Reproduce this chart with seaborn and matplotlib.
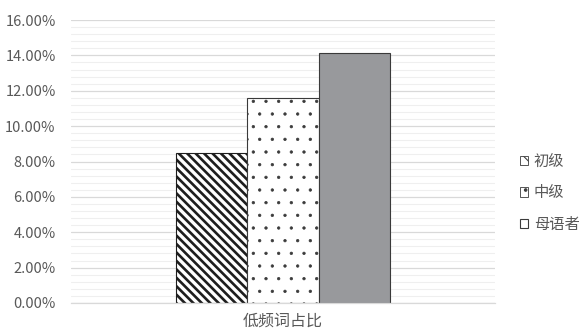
import matplotlib
matplotlib.use("Agg")
import matplotlib.pyplot as plt
import seaborn as sns
import pandas as pd
from matplotlib.ticker import FuncFormatter, MultipleLocator
from matplotlib.patches import Patch

categories = ["低频词占比"]
groups = ["初级", "中级", "母语者"]
values = [0.0848, 0.1158, 0.1413]
yticks = [0, 0.02, 0.04, 0.06, 0.08, 0.10, 0.12, 0.14, 0.16]

DPI = 76
S = 100 / DPI  # scale so sizes match a 100-dpi layout

sns.set_theme(style="white")
plt.rcParams['font.family'] = ['Noto Sans CJK SC', 'DejaVu Sans']

df = pd.DataFrame({"cat": categories * 3, "grp": groups, "val": values})

fig = plt.figure(figsize=(584 / DPI, 332 / DPI), dpi=DPI)
ax = fig.add_axes([71/584, 29/332, 424/584, 283/332])
sns.barplot(data=df, x="cat", y="val", hue="grp", width=0.503, ax=ax,
            palette=["white", "white", "#98999c"], edgecolor="#3a3a3a",
            linewidth=0.8 * S, legend=False, saturation=1)
for i, p in enumerate(ax.patches[:3]):
    if i == 0:
        p.set_hatch("\\\\\\")
        p.set_facecolor("white")
        p.set_edgecolor("#1e1e1e")
        p.set_hatch_linewidth(1.9 * S)
    elif i == 1:
        p.set_hatch(".")
        p.set_facecolor("white")
        p.set_hatch_linewidth(0.5 * S)
ax.set_xlim(-0.5, 0.5)
ax.set_ylim(0, 0.16)
ax.set_yticks(yticks)
ax.yaxis.set_major_formatter(FuncFormatter(lambda v, _: f"{v*100:.2f}%"))
ax.yaxis.set_minor_locator(MultipleLocator(0.004))
ax.grid(axis="y", which="major", color="#d9d9d9", linewidth=0.9 * S)
ax.grid(axis="y", which="minor", color="#efefef", linewidth=0.8 * S)
ax.set_axisbelow(True)
for s in ax.spines.values():
    s.set_visible(False)
ax.spines["bottom"].set_visible(True)
ax.spines["bottom"].set_color("#d9d9d9")
ax.spines["bottom"].set_linewidth(0.9 * S)
ax.tick_params(axis="both", length=0, colors="#595959")
ax.tick_params(axis="y", pad=11 * S, labelsize=10.5 * S)
ax.tick_params(axis="x", pad=7 * S, labelsize=11.5 * S)
ax.set_xlabel("")
ax.set_ylabel("")

h1 = Patch(facecolor="white", edgecolor="#3a3a3a", hatch="\\\\", linewidth=0.6 * S)
h2 = Patch(facecolor="white", edgecolor="#3a3a3a", hatch=".", linewidth=0.6 * S)
h3 = Patch(facecolor="white", edgecolor="#3a3a3a", linewidth=0.8 * S)
h1.set_hatch_linewidth(1.5 * S)
h2.set_hatch_linewidth(0.5 * S)
leg = fig.legend([h1, h2, h3], groups, loc="center left", bbox_to_anchor=(520/584, 1 - 193/332),
                 frameon=False, fontsize=11 * S, handlelength=0.55, handleheight=0.55,
                 handletextpad=0.35, labelspacing=0.95, labelcolor="#595959",
                 borderpad=0, borderaxespad=0)
fig.savefig("out.png", dpi=DPI)
